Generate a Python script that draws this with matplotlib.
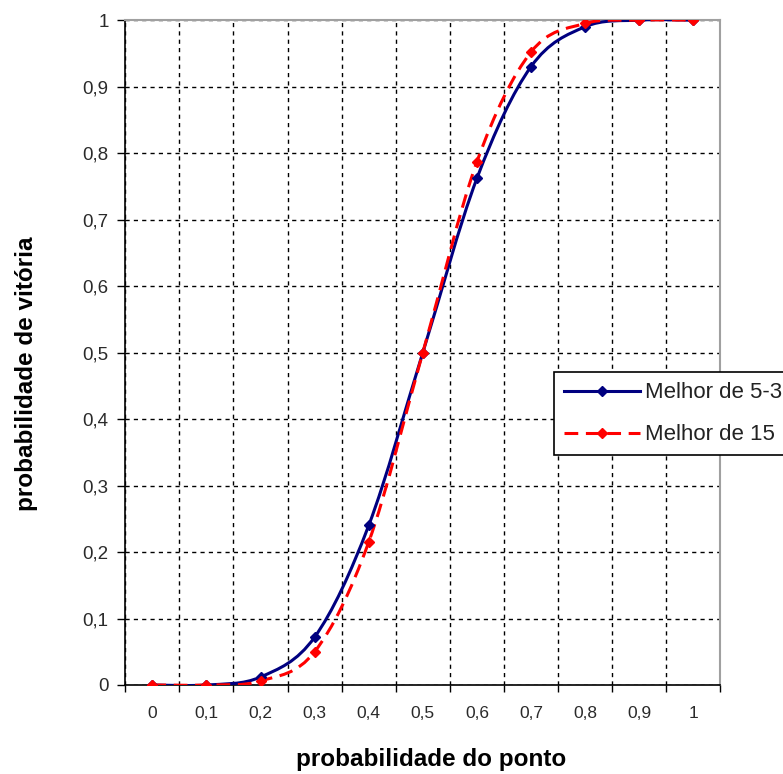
import numpy as np
import matplotlib
matplotlib.use("Agg")
import matplotlib.pyplot as plt
from matplotlib.path import Path
from matplotlib.patches import PathPatch
from matplotlib.lines import Line2D

categories = ["0", "0,1", "0,2", "0,3", "0,4", "0,5", "0,6", "0,7", "0,8", "0,9", "1"]
melhor_5_3 = [0.0, 0.0, 0.012, 0.072, 0.24, 0.5, 0.762, 0.93, 0.99, 1.0, 1.0]
melhor_15 = [0.0, 0.0, 0.006, 0.05, 0.215, 0.5, 0.787, 0.952, 0.995, 1.0, 1.0]
yticks = [0, 0.1, 0.2, 0.3, 0.4, 0.5, 0.6, 0.7, 0.8, 0.9, 1.0]
ytick_labels = ["0", "0,1", "0,2", "0,3", "0,4", "0,5", "0,6", "0,7", "0,8", "0,9", "1"]

plt.rcParams['font.family'] = ['Liberation Sans', 'DejaVu Sans']

fig = plt.figure(figsize=(7.83, 7.74), dpi=100)
ax = fig.add_axes([0.160, 0.115, 0.760, 0.859])

x = np.arange(len(categories))


def smooth_path(xs, ys, tension=0.5):
    # Excel-like smoothed line via cubic Bezier (Catmull-Rom control points)
    xs = np.asarray(xs, float)
    ys = np.asarray(ys, float)
    n = len(xs)
    verts = [(xs[0], ys[0])]
    codes = [Path.MOVETO]
    for i in range(n - 1):
        p0 = (xs[max(i - 1, 0)], ys[max(i - 1, 0)])
        p1 = (xs[i], ys[i])
        p2 = (xs[i + 1], ys[i + 1])
        p3 = (xs[min(i + 2, n - 1)], ys[min(i + 2, n - 1)])
        c1 = (p1[0] + (p2[0] - p0[0]) * tension / 3, p1[1] + (p2[1] - p0[1]) * tension / 3)
        c2 = (p2[0] - (p3[0] - p1[0]) * tension / 3, p2[1] - (p3[1] - p1[1]) * tension / 3)
        verts += [c1, c2, p2]
        codes += [Path.CURVE4] * 3
    return Path(verts, codes)


blue = "#000080"
red = "#FF0000"
dash = (0, (4.5, 2.5))

pb = PathPatch(smooth_path(x, melhor_5_3), facecolor="none", edgecolor=blue, lw=2.2, zorder=3)
ax.add_patch(pb)
pr = PathPatch(smooth_path(x, melhor_15), facecolor="none", edgecolor=red, lw=2.2,
               linestyle=dash, zorder=4)
ax.add_patch(pr)
ax.plot(x, melhor_5_3, linestyle="none", marker="D", color=blue, ms=5.5, zorder=5)
ax.plot(x, melhor_15, linestyle="none", marker="D", color=red, ms=5.5, zorder=6)

ax.set_xlim(-0.5, len(categories) - 0.5)
ax.set_ylim(0, 1)

# category boundaries as grid / ticks
ax.set_xticks(np.arange(-0.5, len(categories), 1.0))
ax.set_xticklabels([])
ax.set_xticks(x, minor=True)
ax.set_xticklabels(categories, minor=True)
ax.tick_params(axis="x", which="major", direction="out", length=5, width=1, color="black")
ax.tick_params(axis="x", which="minor", length=0, pad=15, labelsize=12.5, labelcolor="#2a2a2a")
ax.set_yticks(yticks)
ax.set_yticklabels(ytick_labels)
ax.tick_params(axis="y", direction="out", length=6, width=1, color="black", pad=6,
               labelsize=13.5, labelcolor="#2a2a2a")

ax.grid(True, which="major", color="black", linestyle=(0, (3, 3)), linewidth=1.0)
ax.set_axisbelow(True)

for s in ["top", "right"]:
    ax.spines[s].set_color("#a0a0a0")
    ax.spines[s].set_linewidth(1.5)
for s in ["left", "bottom"]:
    ax.spines[s].set_color("black")
    ax.spines[s].set_linewidth(1.2)

ax.set_xlabel("probabilidade do ponto", fontsize=17.5, fontweight="bold")
ax.set_ylabel("probabilidade de vitória", fontsize=17.5, fontweight="bold")
ax.xaxis.set_label_coords(0.514, -0.095)
ax.yaxis.set_label_coords(-0.146, 0.468)

handles = [
    Line2D([], [], color=blue, lw=2.2, marker="D", ms=5.5),
    Line2D([], [], color=red, lw=2.2, linestyle=dash, marker="D", ms=5.5),
]
leg = fig.legend(handles, ["Melhor de 5-3", "Melhor de 15"], loc="upper left",
                 bbox_to_anchor=(0.7075, 0.519), fontsize=16, frameon=True, fancybox=False,
                 edgecolor="black", framealpha=1, handlelength=3.4, borderpad=0.45,
                 labelspacing=0.95, handletextpad=0.25, borderaxespad=0)
leg.get_frame().set_linewidth(1.2)
for t in leg.get_texts():
    t.set_color("#222222")

fig.savefig("out.png", dpi=100)
